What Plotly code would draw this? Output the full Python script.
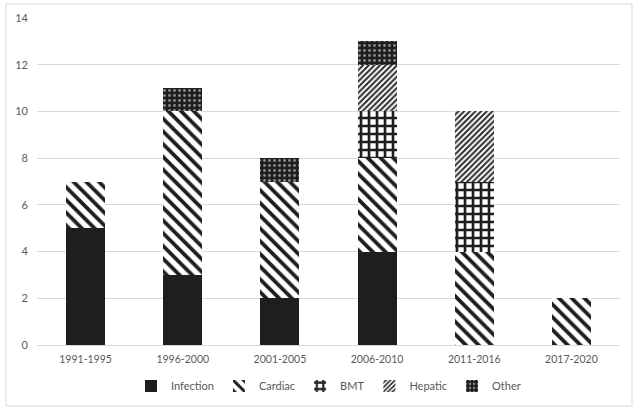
import plotly.graph_objects as go

categories = ["1991-1995", "1996-2000", "2001-2005", "2006-2010", "2011-2016", "2017-2020"]
infection = [5, 3, 2, 4, 0, 0]
cardiac = [2, 7, 5, 4, 4, 2]
bmt = [0, 0, 0, 2, 3, 0]
hepatic = [0, 0, 0, 2, 3, 0]
other = [0, 1, 1, 1, 0, 0]
y_ticks = [0, 2, 4, 6, 8, 10, 12, 14]

DARK = "#1e1e1e"
fig = go.Figure()
fig.add_trace(go.Bar(name="Infection", x=categories, y=infection,
                     marker=dict(color=DARK, line=dict(width=0))))
fig.add_trace(go.Bar(name="Cardiac", x=categories, y=cardiac,
                     marker=dict(color="white", line=dict(width=0),
                                 pattern=dict(shape="\\", fgcolor=DARK, bgcolor="white", fgopacity=1,
                                              size=9, solidity=0.42, fillmode="replace"))))
fig.add_trace(go.Bar(name="BMT", x=categories, y=bmt,
                     marker=dict(color="white", line=dict(width=0),
                                 pattern=dict(shape="+", fgcolor=DARK, bgcolor="white", fgopacity=1,
                                              size=8, solidity=0.55, fillmode="replace"))))
fig.add_trace(go.Bar(name="Hepatic", x=categories, y=hepatic,
                     marker=dict(color="white", line=dict(width=0),
                                 pattern=dict(shape="/", fgcolor="#2a2a2a", bgcolor="white", fgopacity=1,
                                              size=4, solidity=0.5, fillmode="replace"))))
fig.add_trace(go.Bar(name="Other", x=categories, y=other,
                     marker=dict(color=DARK, line=dict(width=0),
                                 pattern=dict(shape=".", fgcolor="#8a8a8a", bgcolor=DARK, fgopacity=1,
                                              size=5, solidity=0.25, fillmode="replace"))))

fig.update_layout(
    width=639, height=412,
    barmode="stack", bargap=0.6,
    margin=dict(l=37, r=19, t=18, b=67),
    paper_bgcolor="white", plot_bgcolor="white",
    font=dict(family="Lato, 'Open Sans', sans-serif", size=11, color="#595959"),
    showlegend=True,
    legend=dict(orientation="h", x=0.5, xanchor="center", y=-0.125, yanchor="middle",
                font=dict(size=11, color="#595959"), traceorder="normal",
                itemwidth=30, itemsizing="constant"),
    xaxis=dict(showline=True, linecolor="#d9d9d9", linewidth=1, ticks="",
               ticklabelstandoff=4, tickfont=dict(size=10.5, color="#595959")),
    yaxis=dict(range=[0, 14], tickvals=y_ticks, showgrid=True, gridcolor="#d9d9d9",
               gridwidth=1, zeroline=False, showline=False, ticks="",
               ticklabelstandoff=8, tickfont=dict(size=11, color="#595959")),
    shapes=[dict(type="rect", xref="paper", yref="paper",
                 x0=-0.0532, x1=1.0206, y0=-0.1865, y1=1.0428,
                 line=dict(color="#d9d9d9", width=1), fillcolor="rgba(0,0,0,0)", layer="below")],
)

fig.write_html("out.html", config={"displayModeBar": False},
               post_script="document.body.style.margin='0px';")
